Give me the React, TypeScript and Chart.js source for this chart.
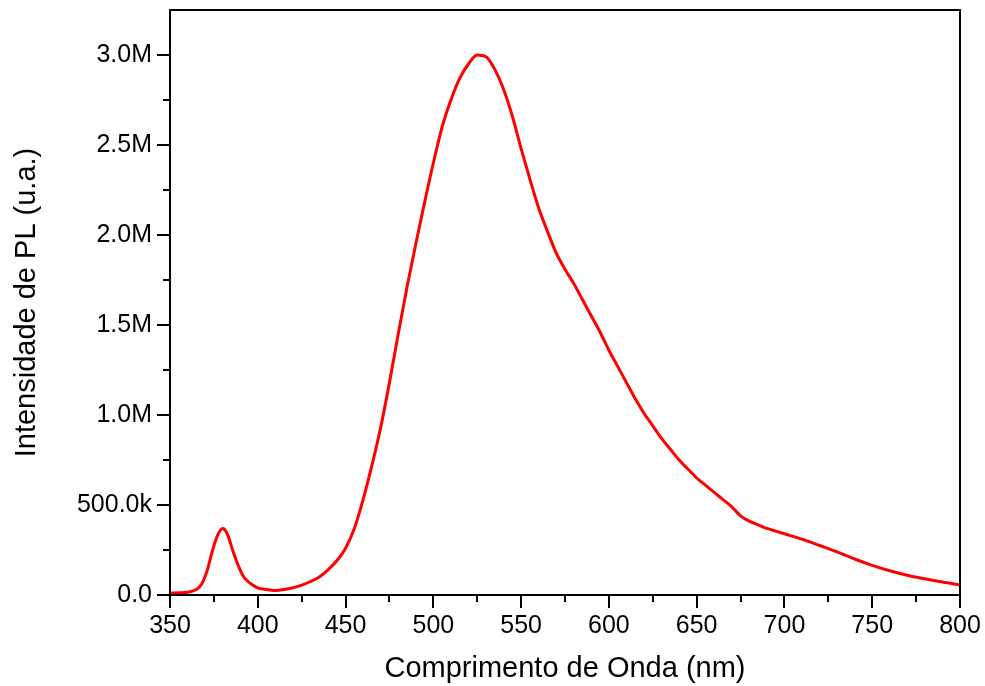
import React, { useEffect, useRef } from "react";
import { Chart, registerables } from "chart.js";

Chart.register(...registerables);

// Wavelength (nm)
const wavelengths: number[] = [
  350, 355, 360, 365, 368, 371, 374, 377, 380, 381, 383, 386, 389, 392, 395,
  400, 405, 410, 415, 420, 425, 430, 435, 440, 445, 450, 455, 460, 465, 470,
  475, 480, 485, 490, 495, 500, 505, 510, 515, 520, 525, 530, 535, 540, 545,
  550, 555, 560, 565, 570, 575, 580, 585, 590, 595, 600, 605, 610, 615, 620,
  625, 630, 635, 640, 645, 650, 655, 660, 665, 670, 675, 680, 685, 690, 695,
  700, 710, 720, 730, 740, 750, 760, 770, 780, 790, 800,
];

// PL intensity (millions of a.u.)
const intensities: number[] = [
  0.010, 0.012, 0.015, 0.03, 0.06, 0.13, 0.24, 0.33, 0.37, 0.365, 0.33, 0.24, 0.16, 0.10, 0.07,
  0.04, 0.03, 0.025, 0.03, 0.04, 0.055, 0.075, 0.10, 0.14, 0.19, 0.26, 0.37, 0.53, 0.72, 0.93,
  1.18, 1.45, 1.71, 1.95, 2.18, 2.40, 2.60, 2.75, 2.87, 2.95, 3.00, 2.99, 2.92, 2.81, 2.66,
  2.48, 2.31, 2.15, 2.02, 1.90, 1.81, 1.73, 1.64, 1.55, 1.46, 1.36, 1.27, 1.18, 1.09, 1.01,
  0.94, 0.87, 0.81, 0.75, 0.70, 0.65, 0.61, 0.57, 0.53, 0.49, 0.44, 0.41, 0.39, 0.37, 0.355,
  0.34, 0.31, 0.275, 0.24, 0.20, 0.165, 0.135, 0.11, 0.09, 0.072, 0.056,
];

const xMajorTicks: number[] = [350, 400, 450, 500, 550, 600, 650, 700, 750, 800];
const xMinorTicks: number[] = [375, 425, 475, 525, 575, 625, 675, 725, 775];
const yMajorTicks: number[] = [0, 0.5, 1.0, 1.5, 2.0, 2.5, 3.0];
const yMinorTicks: number[] = [0.25, 0.75, 1.25, 1.75, 2.25, 2.75];

const xTitle = "Comprimento de Onda (nm)";
const yTitle = "Intensidade de PL (u.a.)";

const FONT = "'Liberation Sans', Arial, sans-serif";
const MAJOR_LEN = 13;
const MINOR_LEN = 7;

function formatY(v: number): string {
  if (Math.abs(v) < 1e-9) return "0.0";
  if (v < 1) return (v * 1000).toFixed(1) + "k";
  return v.toFixed(1) + "M";
}

const framePlugin = {
  id: "frameTicks",
  afterDraw(chart: any) {
    const { ctx, chartArea } = chart;
    const xs = chart.scales.x;
    const ys = chart.scales.y;
    ctx.save();
    ctx.strokeStyle = "#000";
    ctx.lineWidth = 2;
    ctx.lineCap = "butt";
    ctx.strokeRect(
      chartArea.left,
      chartArea.top,
      chartArea.right - chartArea.left,
      chartArea.bottom - chartArea.top
    );
    ctx.beginPath();
    const b = chartArea.bottom;
    const l = chartArea.left;
    xMajorTicks.forEach((v) => {
      const px = Math.round(xs.getPixelForValue(v));
      ctx.moveTo(px, b);
      ctx.lineTo(px, b + MAJOR_LEN);
    });
    xMinorTicks.forEach((v) => {
      const px = Math.round(xs.getPixelForValue(v));
      ctx.moveTo(px, b);
      ctx.lineTo(px, b + MINOR_LEN);
    });
    yMajorTicks.forEach((v) => {
      const py = Math.round(ys.getPixelForValue(v));
      ctx.moveTo(l, py);
      ctx.lineTo(l - MAJOR_LEN, py);
    });
    yMinorTicks.forEach((v) => {
      const py = Math.round(ys.getPixelForValue(v));
      ctx.moveTo(l, py);
      ctx.lineTo(l - MINOR_LEN, py);
    });
    ctx.stroke();
    ctx.restore();
  },
};

export default function App() {
  const canvasRef = useRef<HTMLCanvasElement | null>(null);

  useEffect(() => {
    if (!canvasRef.current) return;
    const points = wavelengths.map((w, i) => ({ x: w, y: intensities[i] }));
    const chart = new Chart(canvasRef.current, {
      type: "line",
      data: {
        datasets: [
          {
            data: points,
            borderColor: "#ff0000",
            borderWidth: 3,
            pointRadius: 0,
            cubicInterpolationMode: "monotone",
            fill: false,
          },
        ],
      },
      options: {
        animation: false,
        responsive: false,
        maintainAspectRatio: false,
        devicePixelRatio: 1,
        layout: { padding: { top: 10, right: 25, left: 0, bottom: 0 } },
        plugins: {
          legend: { display: false },
          tooltip: { enabled: false },
        },
        scales: {
          x: {
            type: "linear",
            min: 350,
            max: 800,
            afterBuildTicks: (scale: any) => {
              scale.ticks = xMajorTicks.map((v) => ({ value: v }));
            },
            afterFit: (scale: any) => {
              scale.height = 91;
              scale.paddingLeft = 0;
              scale.paddingRight = 0;
            },
            grid: { display: false, drawTicks: false },
            border: { display: false },
            ticks: {
              padding: 16,
              color: "#000",
              font: { family: FONT, size: 25 },
              maxRotation: 0,
              autoSkip: false,
              callback: (v: any) => String(v),
            },
            title: {
              display: true,
              text: xTitle,
              color: "#000",
              font: { family: FONT, size: 29 },
              padding: { top: 0, bottom: 0 },
            },
          },
          y: {
            type: "linear",
            min: 0,
            max: 3.25,
            afterBuildTicks: (scale: any) => {
              scale.ticks = yMajorTicks.map((v) => ({ value: v }));
            },
            afterFit: (scale: any) => {
              scale.width = 170;
              scale.paddingTop = 0;
              scale.paddingBottom = 0;
            },
            grid: { display: false, drawTicks: false },
            border: { display: false },
            ticks: {
              padding: 18,
              color: "#000",
              font: { family: FONT, size: 25 },
              autoSkip: false,
              callback: (v: any) => formatY(Number(v)),
            },
            title: {
              display: true,
              text: yTitle,
              color: "#000",
              font: { family: FONT, size: 29 },
              padding: { top: 10, bottom: 0 },
            },
          },
        },
      },
      plugins: [framePlugin],
    });
    return () => chart.destroy();
  }, []);

  return (
    <div style={{ position: "fixed", left: 0, top: 0, width: 985, height: 686, background: "#fff" }}>
      <canvas ref={canvasRef} width={985} height={686} style={{ width: 985, height: 686 }} />
    </div>
  );
}
